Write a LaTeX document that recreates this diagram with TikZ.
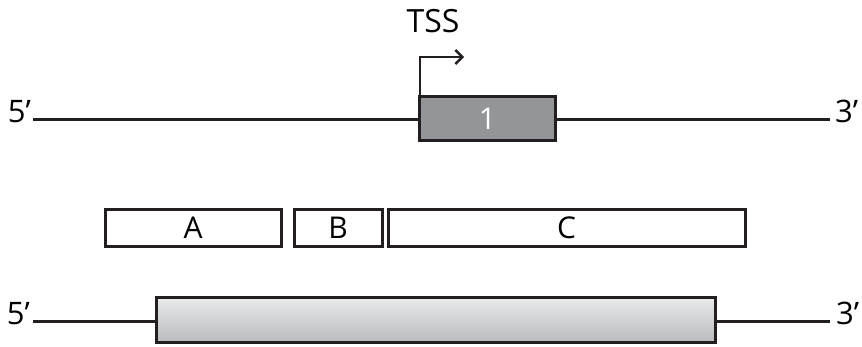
\documentclass[tikz,border=0pt]{standalone}
\usepackage{fontspec}
\setmainfont{Open Sans}
\usetikzlibrary{arrows.meta,shadows}
\definecolor{exongrey}{HTML}{939598}
\definecolor{geneTop}{HTML}{E8E9EA}
\definecolor{geneBot}{HTML}{B9BBBE}
\definecolor{inkline}{HTML}{231F20}
\tikzset{
  strand/.style={draw=inkline, line width=3pt},
  endlabel/.style={font=\fontsize{31}{32}\selectfont, inner sep=0pt},
  boxbase/.style={draw=inkline, line width=3pt, rectangle, inner sep=0pt,
    font=\fontsize{30}{32}\selectfont,
    drop shadow={opacity=0.25, shadow xshift=1pt, shadow yshift=-1.5pt}},
  exon/.style={boxbase, fill=exongrey, text=white},
  fragment/.style={boxbase, fill=white},
  gene/.style={boxbase, top color=geneTop, bottom color=geneBot},
}
\begin{document}
\begin{tikzpicture}[x=1pt,y=-1pt]
\useasboundingbox (0,0) rectangle (862,347);

% upper strand with exon 1 and the transcription start site
\node[exon, minimum width=136pt, minimum height=44pt] (ex1) at (487.5,119) {1};
\node[endlabel, anchor=base east] (l5a) at (31,123) {5’};
\node[endlabel, anchor=base west] (l3a) at (835,123) {3’};
\coordinate (s5a) at (33,120);
\coordinate (s3a) at (830,120);
\draw[strand] (s5a) -- (s5a -| ex1.west);
\draw[strand] (ex1.east |- s3a) -- (s3a);
\coordinate (tssbend) at (420,57);
\coordinate (tssend) at (464,57);
\draw[draw=inkline, line width=2.6pt, -{Straight Barb[length=7pt,width=14pt,line width=2.4pt]}]
  (ex1.north west -| tssbend) -- (tssbend) -- (tssend);
\node[endlabel, font=\fontsize{32}{34}\selectfont] (tss) at (433,21) {TSS};

% fragments A, B, C
\node[fragment, minimum width=176pt, minimum height=37pt] (fa) at (193,228) {A};
\node[fragment, minimum width=88pt, minimum height=37pt] (fb) at (338,228) {B};
\node[fragment, minimum width=357pt, minimum height=37pt] (fc) at (566.5,228) {C};

% lower strand with the full gene
\node[gene, minimum width=559pt, minimum height=44pt] (gene) at (435.5,320) {};
\node[endlabel, anchor=base east] (l5b) at (30,324) {5’};
\node[endlabel, anchor=base west] (l3b) at (836,324) {3’};
\coordinate (s5b) at (33,322);
\coordinate (s3b) at (830,322);
\draw[strand] (s5b) -- (s5b -| gene.west);
\draw[strand] (gene.east |- s3b) -- (s3b);
\end{tikzpicture}
\end{document}
